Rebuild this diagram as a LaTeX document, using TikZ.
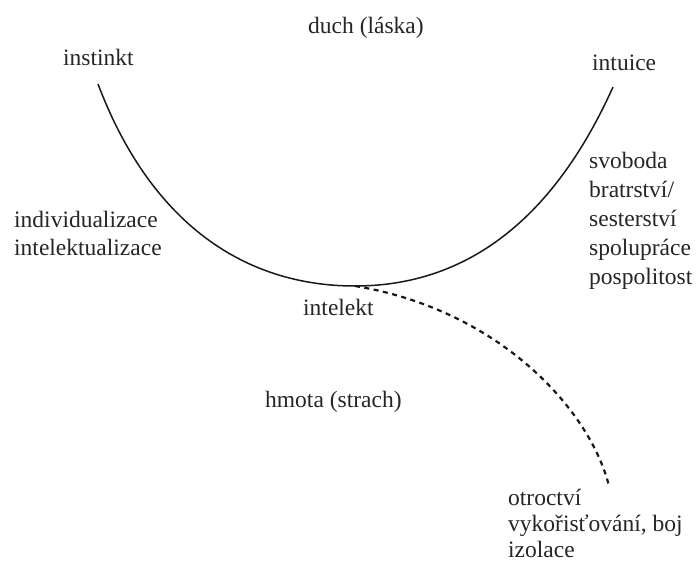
\documentclass[tikz,border=0pt]{standalone}
\usepackage{fontspec}
\setmainfont{Liberation Serif}
\begin{document}
\begin{tikzpicture}[x=1pt,y=-1pt,
  lbl/.style={font=\fontsize{23.5}{29}\selectfont, text=black!85, inner sep=0pt, anchor=base west},
  solidcurve/.style={line width=1.5pt, black!90},
  dashcurve/.style={line width=2.2pt, black!90, dash pattern=on 5pt off 4.5pt}]
\useasboundingbox[fill=white] (0,0) rectangle (697,565);
% top labels
\node[lbl] (duch) at (308,33) {duch (láska)};
\node[lbl] (instinkt) at (63,65) {instinkt};
\node[lbl] (intuice) at (592,70) {intuice};
% left block
\node[lbl] (indiv) at (14,227) {individualizace};
\node[lbl] (intelz) at (14,255) {intelektualizace};
% right block
\node[lbl] (svob) at (589,168) {svoboda};
\node[lbl] (bratr) at (589,197) {bratrství/};
\node[lbl] (sest) at (589,226) {sesterství};
\node[lbl] (spol) at (589,255) {spolupráce};
\node[lbl] (posp) at (589,284) {pospolitost};
% middle
\node[lbl] (intelekt) at (303,315) {intelekt};
\node[lbl] (hmota) at (265,407) {hmota (strach)};
% bottom right block
\node[lbl] (otr) at (508,505) {otroctví};
\node[lbl] (vyk) at (508,531) {vykořisťování, boj};
\node[lbl] (izol) at (508,557) {izolace};
% curves
\coordinate (L) at (98,84);
\coordinate (B) at (355,286);
\coordinate (R) at (613,87);
\coordinate (E) at (609,486);
\draw[solidcurve] (L) .. controls (151,224) and (245,286) .. (B)
                      .. controls (460,286) and (550,227) .. (R);
\draw[dashcurve] (B) .. controls (500,310) and (590,410) .. (E);
\end{tikzpicture}
\end{document}
